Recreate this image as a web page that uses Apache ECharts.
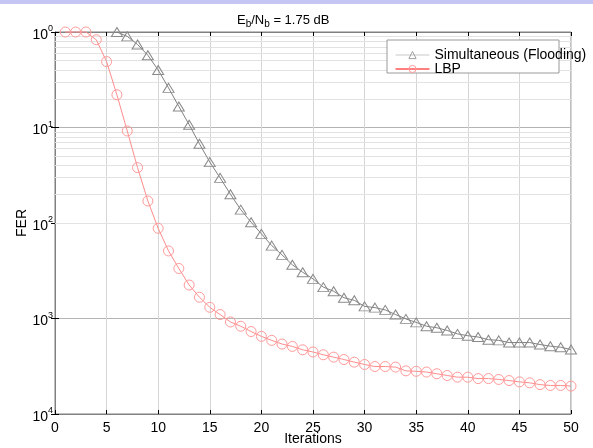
<!DOCTYPE html>
<html>
<head>
<meta charset="utf-8">
<script src="https://cdn.jsdelivr.net/npm/echarts@6/dist/echarts.min.js"></script>
<style>
  html, body { margin: 0; padding: 0; background: #fff; }
  #chart { width: 593px; height: 448px; }
</style>
</head>
<body>
<div id="chart"></div>
<script>
  // iterations on x, frame error rate on y (log)
  var iterations = [];
  for (var i = 1; i <= 50; i++) iterations.push(i);

  var floodFer = ['-', '-', '-', '-', '-', 1.0, 0.90, 0.74, 0.57, 0.40,
    0.26, 0.166, 0.107, 0.0675, 0.0434, 0.0297, 0.0200, 0.0138, 0.0102, 0.0077,
    0.0058, 0.00464, 0.00365, 0.00305, 0.0026, 0.00213, 0.00193, 0.00165, 0.00155, 0.00134,
    0.0013, 0.00123, 0.0011, 0.00099, 0.00091, 0.00083, 0.0008, 0.00075, 0.00069, 0.00066,
    0.00064, 0.0006, 0.00059, 0.00056, 0.00056, 0.00056, 0.000534, 0.000513, 0.0005, 0.000473];

  var lbpFer = [1.0, 1.0, 1.0, 0.83, 0.49, 0.22, 0.092, 0.038, 0.017, 0.0088,
    0.0051, 0.00334, 0.00224, 0.00167, 0.00131, 0.0011, 0.00092, 0.00083, 0.00073, 0.00065,
    0.00059, 0.00054, 0.00051, 0.00047, 0.000446, 0.000417, 0.000394, 0.000372, 0.000349, 0.00033,
    0.000314, 0.000314, 0.00031, 0.000283, 0.00028, 0.000275, 0.000264, 0.000253, 0.000243, 0.000243,
    0.000235, 0.000235, 0.00023, 0.000224, 0.000217, 0.000212, 0.000203, 0.000199, 0.000199, 0.000196];

  var seriesNames = ['Simultaneous (Flooding)', 'LBP'];
  var decades = [1, 0.1, 0.01, 0.001, 0.0001];

  // minor grid lines at 2..9 of each decade
  var minorGrid = [];
  for (var d = 1; d < decades.length; d++) {
    for (var k = 2; k <= 9; k++) minorGrid.push(k * decades[d]);
  }

  function pairs(ys) {
    return iterations.map(function (x, j) { return [x, ys[j]]; });
  }

  var font = 'Liberation Sans, Arial, sans-serif';

  var myChart = echarts.init(document.getElementById('chart'));
  var option = {
    animation: false,
    backgroundColor: '#fff',
    textStyle: { fontFamily: font },
    title: {
      text: '{n|E}{s|b}{n|/N}{s|b}{n| = 1.75 dB}',
      left: 232,
      top: 7,
      textStyle: {
        fontWeight: 'normal',
        rich: {
          n: { fontSize: 13, color: '#000', fontFamily: font, fontWeight: 'normal' },
          s: { fontSize: 10, color: '#000', fontFamily: font, fontWeight: 'normal', padding: [7, 0, 0, 0] }
        }
      }
    },
    graphic: [
      { type: 'rect', shape: { x: 0, y: 0, width: 593, height: 4 }, style: { fill: '#c6c6f4' }, zlevel: 1 },
      { type: 'rect', shape: { x: 387, y: 40, width: 172, height: 33 },
        style: { fill: '#fff', stroke: '#9a9a9a', lineWidth: 1 }, zlevel: 1, z: 0 }
    ],
    legend: {
      orient: 'vertical',
      left: 395,
      top: 48,
      padding: 0,
      itemGap: 0,
      itemWidth: 34,
      itemHeight: 9,
      zlevel: 1,
      z: 10,
      textStyle: { fontSize: 14, color: '#000', lineHeight: 11, fontFamily: font },
      data: [
        { name: seriesNames[0], lineStyle: { color: '#c8c8c8', width: 1 },
          itemStyle: { color: 'rgba(0,0,0,0)', borderColor: '#a0a0a0', borderWidth: 1 } },
        { name: seriesNames[1], lineStyle: { color: '#ff0000', width: 1 },
          itemStyle: { color: 'rgba(0,0,0,0)', borderColor: '#ff9a9a', borderWidth: 1 } }
      ]
    },
    grid: {
      left: 55, right: 22, top: 32, bottom: 34,
      outerBoundsMode: 'none',
      show: true, borderColor: '#808080', borderWidth: 1
    },
    xAxis: [{
      type: 'value', min: 0, max: 50, interval: 5,
      name: 'Iterations', nameLocation: 'middle', nameGap: 18, nameMoveOverlap: false,
      nameTextStyle: { fontSize: 14, color: '#000', fontFamily: font },
      axisLine: { lineStyle: { color: '#808080' } },
      axisTick: { inside: true, length: 4, lineStyle: { color: '#000' } },
      axisLabel: { fontSize: 14, color: '#000', margin: 7, fontFamily: font },
      splitLine: { show: true, lineStyle: { color: '#d6d6d6', width: 1 } }
    }, {
      type: 'value', min: 0, max: 50, interval: 5, position: 'top',
      axisLine: { lineStyle: { color: '#808080' } },
      axisTick: { inside: true, length: 4, lineStyle: { color: '#000' } },
      axisLabel: { show: false },
      splitLine: { show: false }
    }],
    yAxis: [{
      type: 'log', logBase: 10, min: 0.0001, max: 1,
      name: 'FER', nameLocation: 'middle', nameGap: 26, nameMoveOverlap: false,
      nameTextStyle: { fontSize: 14, color: '#000', fontFamily: font },
      axisLine: { lineStyle: { color: '#808080' } },
      axisTick: { inside: true, length: 4, lineStyle: { color: '#000' } },
      axisLabel: {
        margin: 2,
        formatter: function (v) {
          var e = Math.round(-Math.log(v) / Math.LN10);
          return '{b|10}{s|' + e + '}';
        },
        rich: {
          b: { fontSize: 14, color: '#000', fontFamily: font, padding: [6, 0, 0, 0] },
          s: { fontSize: 9, color: '#000', fontFamily: font, padding: [0, 0, 6, 0] }
        }
      },
      splitLine: { show: true, lineStyle: { color: '#b4b4b4', width: 1 } }
    }, {
      type: 'log', logBase: 10, min: 0.0001, max: 1, position: 'right',
      axisLine: { lineStyle: { color: '#808080' } },
      axisTick: { inside: true, length: 4, lineStyle: { color: '#000' } },
      axisLabel: { show: false },
      splitLine: { show: false }
    }],
    series: [{
      name: 'minor',
      type: 'line',
      data: [],
      silent: true,
      z: 1,
      markLine: {
        silent: true,
        z: 1,
        symbol: ['none', 'none'],
        label: { show: false },
        lineStyle: { color: '#e2e2e2', type: 'solid', width: 1 },
        data: minorGrid.map(function (v) { return { yAxis: v }; })
      }
    }, {
      name: seriesNames[0],
      type: 'line',
      data: pairs(floodFer),
      symbol: 'triangle',
      symbolSize: [11, 9],
      lineStyle: { color: '#808080', width: 1 },
      itemStyle: { color: 'rgba(0,0,0,0)', borderColor: '#8a8a8a', borderWidth: 1 },
      z: 3
    }, {
      name: seriesNames[1],
      type: 'line',
      data: pairs(lbpFer),
      symbol: 'circle',
      symbolSize: 10,
      clip: false,
      lineStyle: { color: '#ff8c8c', width: 1 },
      itemStyle: { color: 'rgba(0,0,0,0)', borderColor: '#ff9a9a', borderWidth: 1 },
      z: 3
    }]
  };
  myChart.setOption(option);
</script>
</body>
</html>
